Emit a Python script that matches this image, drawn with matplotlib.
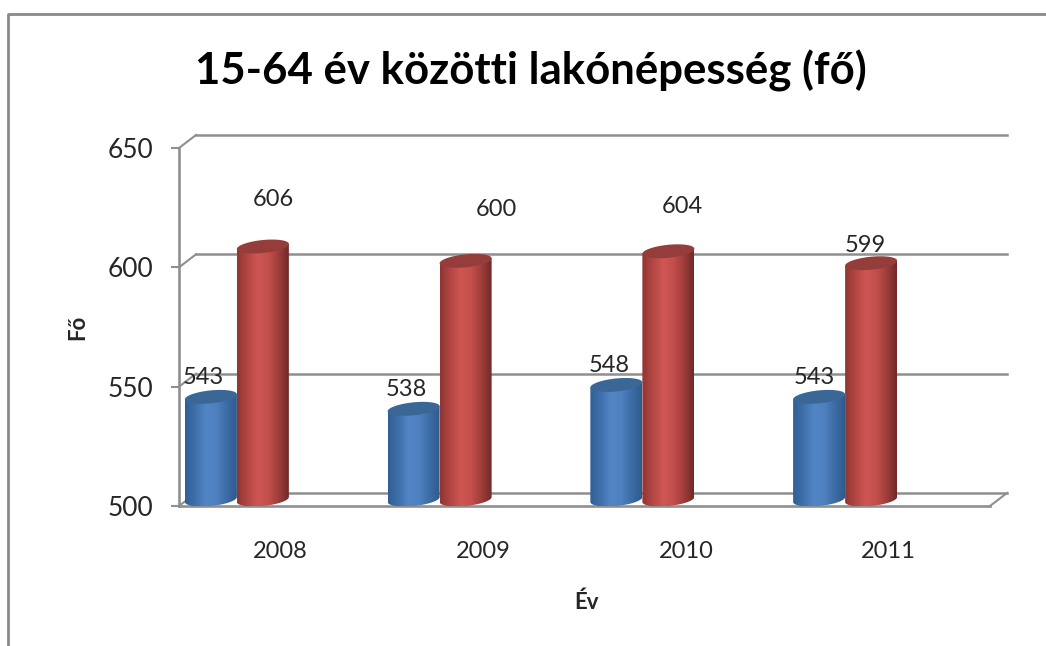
import numpy as np
import matplotlib
matplotlib.use('Agg')
import matplotlib.pyplot as plt
from matplotlib.colors import LinearSegmentedColormap
from matplotlib.lines import Line2D
from matplotlib.patches import PathPatch
from matplotlib.path import Path
from matplotlib.transforms import ScaledTranslation

years = ['2008', '2009', '2010', '2011']
blue_values = [543, 538, 548, 543]
red_values = [606, 600, 604, 599]
y_ticks = [500, 550, 600, 650]

# hand placed data labels in the original, offset from bar top in pixels
blue_label_offsets = [(-8, 19), (-7, 19), (-7, 19), (-5, 19)]
red_label_offsets = [(10, 47), (31, 51), (14, 45), (-6, 18)]

W, H = 1046, 646
DPI = 100
GRAY = '#8f8f8f'
TEXT = '#262626'

plt.rcParams['font.family'] = ['Lato', 'DejaVu Sans']

fig = plt.figure(figsize=(W / DPI, H / DPI), dpi=DPI, facecolor='white')

# front plane of the fake 3d box
left, right, top, bottom = 179, 990, 148, 506
ax = fig.add_axes([left / W, 1 - bottom / H, (right - left) / W, (bottom - top) / H])
ax.set_xlim(0, 4)
ax.set_ylim(500, 650)
ax.patch.set_alpha(0)
for s in ['top', 'right']:
    ax.spines[s].set_visible(False)
for s in ['left', 'bottom']:
    ax.spines[s].set_color(GRAY)
    ax.spines[s].set_linewidth(1.9)

ax.set_yticks(y_ticks)
ax.tick_params(axis='y', length=5.8, width=1.5, color=GRAY, labelsize=19, labelcolor=TEXT, pad=12.5)
ax.set_xticks(np.arange(len(years)) + 0.5)
ax.set_xticklabels(years)
ax.tick_params(axis='x', length=0, labelsize=17, labelcolor=TEXT, pad=25)


def shift(px_x, px_y):
    return ax.transData + ScaledTranslation(px_x / DPI, px_y / DPI, fig.dpi_scale_trans)


# back wall and floor
depth_x, depth_y = 17, 13
back = shift(depth_x, depth_y)
for v in y_ticks:
    ax.plot([0, 4], [v, v], color=GRAY, lw=1.8, transform=back, zorder=1, clip_on=False)
    # little diagonal from the axis to the wall
    x0, y0 = ax.transData.transform((0, v))
    fig.add_artist(Line2D([x0 / W, (x0 + depth_x) / W], [y0 / H, (y0 + depth_y) / H],
                          color=GRAY, lw=1.5, zorder=0))
x0, y0 = ax.transData.transform((4, 500))
fig.add_artist(Line2D([x0 / W, (x0 + depth_x) / W], [y0 / H, (y0 + depth_y) / H],
                      color=GRAY, lw=1.5, zorder=0))

blue_cmap = LinearSegmentedColormap.from_list(
    'b', ['#2f5f96', '#3f70ab', '#5285c6', '#4f81c0', '#3d6da6', '#2f5a8c'])
red_cmap = LinearSegmentedColormap.from_list(
    'r', ['#8f3533', '#b34643', '#cf5653', '#c44f4c', '#a03e3c', '#6f2a29'])

px_x = 4 / (right - left)       # data units per pixel, x
px_y = 150 / (bottom - top)     # data units per pixel, y
bar_w = 52 * px_x
bar_off = 0.5 - 52 * px_x       # bars sit left of the category label
t = np.linspace(0, np.pi, 60)
mid = shift(8.5, 6.5)


def cylinder(xc, value, cmap, top_color, z):
    a = bar_w / 2
    b = 6.5 * px_y
    tilt = 2.5 * px_y
    xs = xc + a * np.cos(t)
    # bottom arc left to right, then top arc right to left
    low_x, low_y = xs[::-1], 500 - b * np.sin(t)[::-1] + tilt * np.cos(t)[::-1]
    up_x, up_y = xs, value + tilt * np.cos(t)
    verts = np.column_stack([np.r_[low_x, up_x], np.r_[low_y, up_y]])
    body = PathPatch(Path(verts), transform=mid, fc='none', ec='none', zorder=z)
    ax.add_patch(body)
    grad = np.linspace(0, 1, 128).reshape(1, -1)
    im = ax.imshow(grad, cmap=cmap, extent=[xc - a, xc + a, 490, value + 20], aspect='auto',
                   transform=mid, zorder=z, interpolation='bilinear')
    im.set_clip_path(body)
    cap_t = np.linspace(0, 2 * np.pi, 80)
    cap_x = xc + a * np.cos(cap_t)
    cap_y = value + b * np.sin(cap_t) + tilt * np.cos(cap_t)
    ax.fill(cap_x, cap_y, color=top_color, lw=0, transform=mid, zorder=z + 0.1, clip_on=False)


positions = np.arange(len(years)) + bar_off
for i, x in enumerate(positions):
    cylinder(x - bar_w / 2, blue_values[i], blue_cmap, '#3a6796', 3)
    cylinder(x + bar_w / 2, red_values[i], red_cmap, '#953d3b', 4)
    ax.annotate(str(blue_values[i]), (x - bar_w / 2, blue_values[i]), xycoords=mid,
                xytext=(blue_label_offsets[i][0] * 0.72, blue_label_offsets[i][1] * 0.72),
                textcoords='offset points', ha='center', va='center', fontsize=17,
                color=TEXT, zorder=6)
    ax.annotate(str(red_values[i]), (x + bar_w / 2, red_values[i]), xycoords=mid,
                xytext=(red_label_offsets[i][0] * 0.72, red_label_offsets[i][1] * 0.72),
                textcoords='offset points', ha='center', va='center', fontsize=17,
                color=TEXT, zorder=6)

ax.set_xlim(0, 4)
ax.set_ylim(500, 650)

# outer chart frame, cropped at right and bottom
fig.add_artist(Line2D([8 / W, 8 / W, 1], [0, 1 - 14 / H, 1 - 14 / H], color='#8a8a8a', lw=2))

fig.text(531 / W, 1 - 71 / H, '15-64 év közötti lakónépesség (fő)', fontsize=31.5,
         fontweight='bold', color='black', ha='center', va='center')
fig.text(78 / W, 1 - 327 / H, 'Fő', fontsize=16, fontweight='bold', color=TEXT,
         rotation=90, ha='center', va='center')
fig.text(586 / W, 1 - 602 / H, 'Év', fontsize=16, fontweight='bold', color=TEXT,
         ha='center', va='center')

fig.savefig('out.png', dpi=DPI)
